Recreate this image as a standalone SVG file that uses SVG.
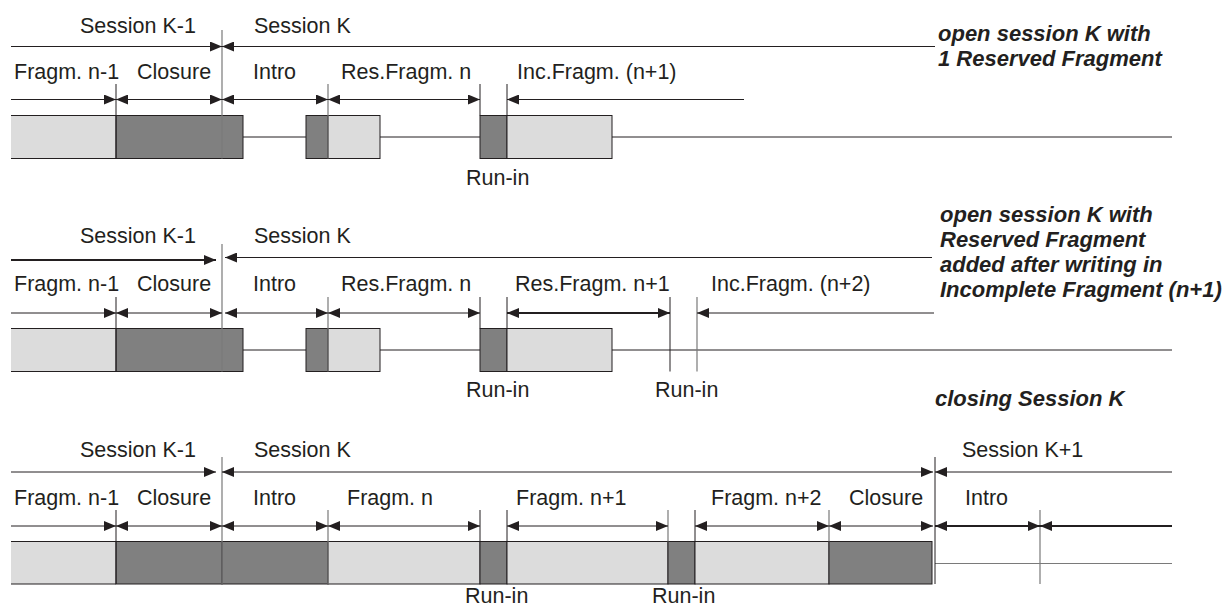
<svg xmlns="http://www.w3.org/2000/svg" width="1228" height="615" viewBox="0 0 1228 615">
<defs>
<marker id="ah" viewBox="0 0 12 10" refX="12" refY="5" markerWidth="12" markerHeight="10" markerUnits="userSpaceOnUse" orient="auto-start-reverse"><path d="M0,0 L12,5 L0,10 z" fill="#231f20"/></marker>
</defs>
<style>
.t{font-family:"Liberation Sans",Arial,sans-serif;font-size:21.5px;fill:#231f20}
.b{font-family:"Liberation Sans",Arial,sans-serif;font-size:22px;font-weight:bold;font-style:italic;fill:#231f20}
.l{stroke:#231f20;stroke-width:1;fill:none}
.k{stroke:#231f20;stroke-width:2.2;fill:none}
.g{stroke:#7a7a7a;stroke-width:1.2;fill:none}
.e{marker-end:url(#ah)}
.s{marker-start:url(#ah)}
.lt{fill:#dcdcdc;stroke:#231f20;stroke-width:1}
.dk{fill:#808080;stroke:#231f20;stroke-width:1}
.nf{fill:#dcdcdc}
</style>
<rect width="1228" height="615" fill="#fff"/>

<!-- Diagram 1 -->
<g id="row1-boxes">
<rect class="nf" x="11" y="115.5" width="105" height="43"/>
<path class="l" d="M11,115.5H116M11,158.5H116"/>
<rect class="dk" x="116" y="115.5" width="127" height="43"/>
<path class="l" d="M243,137H306"/>
<rect class="dk" x="306" y="115.5" width="22" height="43"/>
<rect class="lt" x="328" y="115.5" width="52" height="43"/>
<path class="l" d="M380,137H480"/>
<rect class="dk" x="480" y="115.5" width="27" height="43"/>
<rect class="lt" x="507" y="115.5" width="105" height="43"/>
<path class="l" d="M612,137H1172"/>
</g>
<g id="row1-connectors">
<path class="g" d="M222,30V158.5M328,84V158.5"/>
<path class="l" d="M116,84V158.5M480,84V115.5M507,84V115.5"/>
<path class="l e" d="M11,46.5H222"/>
<path class="l s" d="M222,46.5H935"/>
<path class="l e" d="M11,99.5H116"/>
<path class="l s e" d="M116,99.5H222"/>
<path class="l s e" d="M222,99.5H328"/>
<path class="l s e" d="M328,99.5H480"/>
<path class="l s" d="M507,99.5H744"/>
</g>
<g id="row1-labels">
<text class="t" x="80" y="33">Session K-1</text>
<text class="t" x="254" y="33">Session K</text>
<text class="t" x="14" y="79">Fragm. n-1</text>
<text class="t" x="137" y="79">Closure</text>
<text class="t" x="253" y="79">Intro</text>
<text class="t" x="341" y="79">Res.Fragm. n</text>
<text class="t" x="517" y="79">Inc.Fragm. (n+1)</text>
<text class="t" x="466" y="185">Run-in</text>
<text class="b" x="938" y="41">open session K with</text>
<text class="b" x="938" y="66">1 Reserved Fragment</text>
</g>

<!-- Diagram 2 -->
<g id="row2-boxes">
<rect class="nf" x="11" y="328.5" width="105" height="43"/>
<path class="l" d="M11,328.5H116M11,371.5H116"/>
<rect class="dk" x="116" y="328.5" width="127" height="43"/>
<path class="l" d="M243,350H306"/>
<rect class="dk" x="306" y="328.5" width="22" height="43"/>
<rect class="lt" x="328" y="328.5" width="52" height="43"/>
<path class="l" d="M380,350H480"/>
<rect class="dk" x="480" y="328.5" width="27" height="43"/>
<rect class="lt" x="507" y="328.5" width="105" height="43"/>
<path class="l" d="M612,350H1172"/>
</g>
<g id="row2-connectors">
<path class="g" d="M222,244V371.5M328,297V371.5M697,297V371.5"/>
<path class="l" d="M116,297V371.5M480,297V328.5M507,297V328.5M670,297V371.5"/>
<path class="k e" d="M11,260H216"/>
<path class="l s" d="M225,257.5H932"/>
<path class="l e" d="M11,313H116"/>
<path class="l s e" d="M116,313H222"/>
<path class="l s e" d="M225,313H328"/>
<path class="l s e" d="M328,313H480"/>
<path class="k s e" d="M507,313H670"/>
<path class="l s" d="M697,313H934"/>
</g>
<g id="row2-labels">
<text class="t" x="80" y="243">Session K-1</text>
<text class="t" x="254" y="243">Session K</text>
<text class="t" x="14" y="291">Fragm. n-1</text>
<text class="t" x="137" y="291">Closure</text>
<text class="t" x="253" y="291">Intro</text>
<text class="t" x="341" y="291">Res.Fragm. n</text>
<text class="t" x="515" y="291">Res.Fragm. n+1</text>
<text class="t" x="711" y="291">Inc.Fragm. (n+2)</text>
<text class="t" x="466" y="397">Run-in</text>
<text class="t" x="655" y="397">Run-in</text>
<text class="b" x="940" y="222">open session K with</text>
<text class="b" x="940" y="247">Reserved Fragment</text>
<text class="b" x="940" y="272">added after writing in</text>
<text class="b" x="940" y="297">Incomplete Fragment (n+1)</text>
<text class="b" x="935" y="406">closing Session K</text>
</g>

<!-- Diagram 3 -->
<g id="row3-boxes">
<rect class="nf" x="11" y="541.5" width="105" height="42.5"/>
<path class="l" d="M11,541.5H116M11,584H116"/>
<rect class="dk" x="116" y="541.5" width="106" height="42.5"/>
<rect class="dk" x="222" y="541.5" width="106" height="42.5"/>
<rect class="lt" x="328" y="541.5" width="152" height="42.5"/>
<rect class="dk" x="480" y="541.5" width="27" height="42.5"/>
<rect class="lt" x="507" y="541.5" width="161" height="42.5"/>
<rect class="dk" x="668" y="541.5" width="27" height="42.5"/>
<rect class="lt" x="695" y="541.5" width="134" height="42.5"/>
<rect class="dk" x="829" y="541.5" width="103" height="42.5"/>
<path class="g" d="M935,563.5H1172"/>
</g>
<g id="row3-connectors">
<path class="g" d="M222,457V584M328,510V584M1040,510V584M668,510V541.5M829,510V541.5"/>
<path class="l" d="M935,457V584M116,510V584M480,510V541.5M507,510V541.5M695,510V541.5"/>
<path class="l e" d="M11,472H216"/>
<path class="l s e" d="M222,472H933"/>
<path class="l s" d="M935,472H1172"/>
<path class="l e" d="M11,526H116"/>
<path class="l s e" d="M116,526H222"/>
<path class="l s e" d="M222,526H328"/>
<path class="l s e" d="M328,526H480"/>
<path class="l s e" d="M507,526H668"/>
<path class="l s e" d="M695,526H829"/>
<path class="l s e" d="M829,526H933"/>
<path class="k s e" d="M935,526H1040"/>
<path class="k s" d="M1040,526H1172"/>
</g>
<g id="row3-labels">
<text class="t" x="80" y="457">Session K-1</text>
<text class="t" x="254" y="457">Session K</text>
<text class="t" x="962" y="457">Session K+1</text>
<text class="t" x="14" y="505">Fragm. n-1</text>
<text class="t" x="137" y="505">Closure</text>
<text class="t" x="253" y="505">Intro</text>
<text class="t" x="347" y="505">Fragm. n</text>
<text class="t" x="516" y="505">Fragm. n+1</text>
<text class="t" x="711" y="505">Fragm. n+2</text>
<text class="t" x="849" y="505">Closure</text>
<text class="t" x="965" y="505">Intro</text>
<text class="t" x="465" y="603">Run-in</text>
<text class="t" x="652" y="603">Run-in</text>
</g>
</svg>
